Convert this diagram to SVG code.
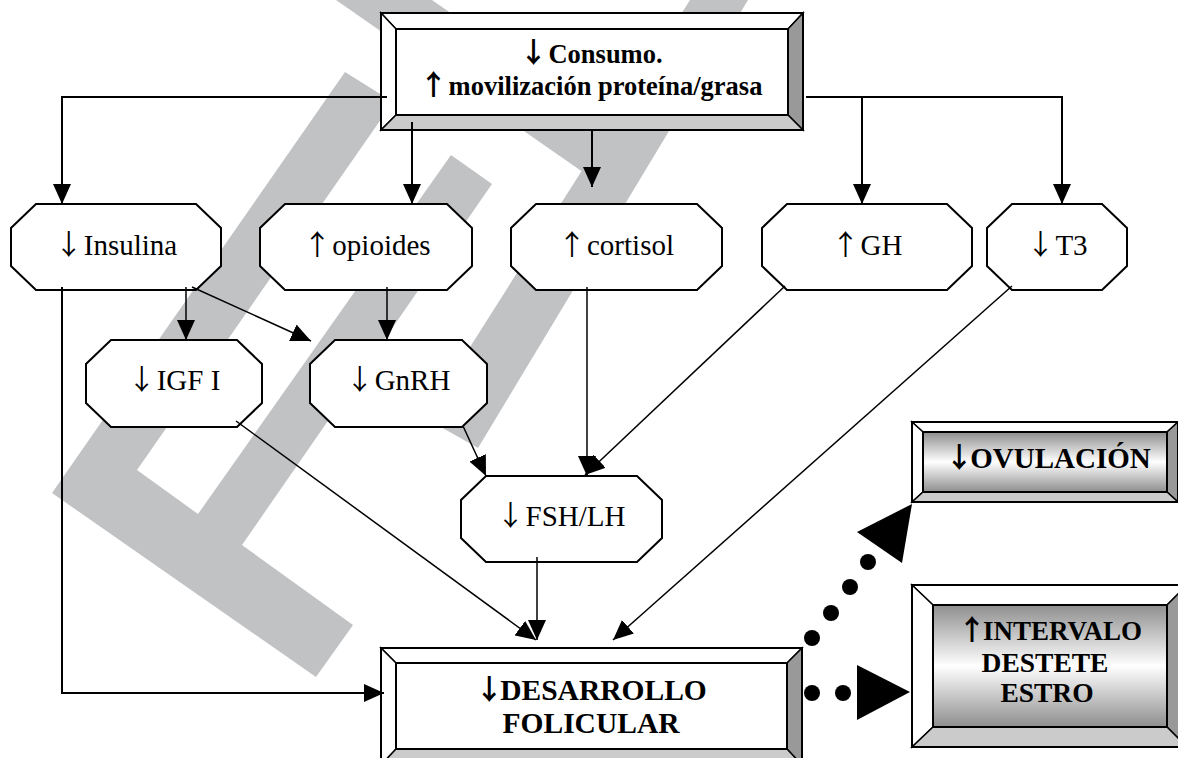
<svg xmlns="http://www.w3.org/2000/svg" width="1178" height="758" viewBox="0 0 1178 758">
<defs>
<style>
.wm{fill:#c1c2c4;stroke:none}
.oct{fill:#fff;stroke:#000;stroke-width:2}
.lbl{font-family:"Liberation Serif","Times New Roman",serif;font-size:29px;fill:#000;text-anchor:middle}
.blbl{font-family:"Liberation Serif","Times New Roman",serif;font-weight:bold;fill:#000;text-anchor:middle}
.ar{font-family:"Noto Sans CJK JP","Noto Sans CJK SC","DejaVu Sans",sans-serif;font-weight:normal;font-size:28px}
.arb{font-family:"Noto Sans CJK JP","Noto Sans CJK SC","DejaVu Sans",sans-serif;font-weight:bold;font-size:28px}
.edge{fill:none;stroke:#000;stroke-width:1.5}
.edge2{fill:none;stroke:#000;stroke-width:2}
.bv{stroke:#000;stroke-width:1.5;stroke-linejoin:miter}
.bw{fill:#fff}
.bd{fill:#999}
.bl{fill:#cbcbcb}
.dot{fill:#000}
</style>
<marker id="ah" markerUnits="userSpaceOnUse" markerWidth="20" markerHeight="18" refX="20" refY="9" orient="auto" viewBox="0 0 20 18">
<path d="M0,0 L20,9 L0,18 Z" fill="#000"/>
</marker>
<linearGradient id="gr" x1="0" y1="0" x2="0" y2="1">
<stop offset="0" stop-color="#8e8e8e"/>
<stop offset="0.5" stop-color="#ffffff"/>
<stop offset="1" stop-color="#8e8e8e"/>
</linearGradient>
</defs>
<rect width="1178" height="758" fill="#fff"/>
<g id="watermark">
<polygon class="wm" points="52,493 345,72 393,102 137,470 198,514 451,155 492,184 242,545 353,625 316,677"/>
<polygon class="wm" points="690,0 748,0 478,448 425,418"/>
<polygon class="wm" points="336,0 432,0 645,148 600,184"/>
</g>
<g id="node-top">
<polygon class="bv bw" points="381,13 803,13 788,29 396,29"/>
<polygon class="bv bw" points="381,13 396,29 396,115 381,130"/>
<polygon class="bv bd" points="803,13 803,130 788,115 788,29"/>
<polygon class="bv bl" points="381,130 803,130 788,115 396,115"/>
<rect x="381" y="13" width="422" height="117" fill="none" stroke="#000" stroke-width="2"/>
<rect x="396" y="29" width="392" height="86" fill="#fff" stroke="#000" stroke-width="2"/>
<text class="blbl" x="591" y="63" font-size="26.5"><tspan class="arb" font-size="25">↓</tspan><tspan dx="1">Consumo.</tspan></text>
<text class="blbl" x="591" y="95" font-size="26.5"><tspan class="arb" font-size="25">↑</tspan><tspan dx="1">movilización proteína/grasa</tspan></text>
</g>
<g id="node-insulina">
<polygon class="oct" points="36,204 196,204 221,228 221,266 196,290 36,290 11,266 11,228"/>
<text class="lbl" x="116" y="255"><tspan class="ar">↓</tspan><tspan dx="1">Insulina</tspan></text>
</g>
<g id="node-opioides">
<polygon class="oct" points="285,204 447,204 472,228 472,266 447,290 285,290 260,266 260,228"/>
<text class="lbl" x="367" y="255"><tspan class="ar">↑</tspan><tspan dx="1">opioides</tspan></text>
</g>
<g id="node-cortisol">
<polygon class="oct" points="536,204 697,204 722,228 722,266 697,290 536,290 511,266 511,228"/>
<text class="lbl" x="616" y="255"><tspan class="ar">↑</tspan><tspan dx="1">cortisol</tspan></text>
</g>
<g id="node-gh">
<polygon class="oct" points="787,204 947,204 972,228 972,266 947,290 787,290 762,266 762,228"/>
<text class="lbl" x="867" y="255"><tspan class="ar">↑</tspan><tspan dx="1">GH</tspan></text>
</g>
<g id="node-t3">
<polygon class="oct" points="1012,204 1102,204 1127,228 1127,266 1102,290 1012,290 987,266 987,228"/>
<text class="lbl" x="1057" y="255"><tspan class="ar">↓</tspan><tspan dx="1">T3</tspan></text>
</g>
<g id="node-igf">
<polygon class="oct" points="111,340 237,340 262,364 262,403 237,427 111,427 86,403 86,364"/>
<text class="lbl" x="174" y="390"><tspan class="ar">↓</tspan><tspan dx="1">IGF I</tspan></text>
</g>
<g id="node-gnrh">
<polygon class="oct" points="335,340 462,340 487,364 487,403 462,427 335,427 310,403 310,364"/>
<text class="lbl" x="398" y="390"><tspan class="ar">↓</tspan><tspan dx="1">GnRH</tspan></text>
</g>
<g id="node-fsh">
<polygon class="oct" points="486,476 637,476 662,500 662,538 637,562 486,562 461,538 461,500"/>
<text class="lbl" x="561" y="526"><tspan class="ar">↓</tspan><tspan dx="1">FSH/LH</tspan></text>
</g>
<g id="node-desarrollo">
<polygon class="bv bw" points="381,648 802,648 787,663 396,663"/>
<polygon class="bv bw" points="381,648 396,663 396,749 381,765"/>
<polygon class="bv bd" points="802,648 802,765 787,749 787,663"/>
<polygon class="bv bl" points="381,765 802,765 787,749 396,749"/>
<rect x="381" y="648" width="421" height="117" fill="none" stroke="#000" stroke-width="2"/>
<rect x="396" y="663" width="391" height="86" fill="#fff" stroke="#000" stroke-width="2"/>
<text class="blbl" x="591" y="700" font-size="29.5"><tspan class="arb" font-size="29">↓</tspan><tspan dx="-3">DESARROLLO</tspan></text>
<text class="blbl" x="591" y="733" font-size="29.5">FOLICULAR</text>
</g>
<g id="node-ovulacion">
<polygon class="bv bw" points="912,422 1178,422 1167,432 923,432"/>
<polygon class="bv bw" points="912,422 923,432 923,492 912,502"/>
<polygon class="bv bd" points="1178,422 1178,502 1167,492 1167,432"/>
<polygon class="bv bl" points="912,502 1178,502 1167,492 923,492"/>
<rect x="923" y="432" width="244" height="60" fill="url(#gr)" stroke="#000" stroke-width="2"/>
<rect x="912" y="422" width="266" height="80" fill="none" stroke="#000" stroke-width="2"/>
<text class="blbl" x="1048" y="468" font-size="29"><tspan class="arb" font-size="28">↓</tspan><tspan dx="-3">OVULACIÓN</tspan></text>
</g>
<g id="node-intervalo">
<polygon class="bv bw" points="912,585 1187,585 1167,605 933,605"/>
<polygon class="bv bw" points="912,585 933,605 933,727 912,747"/>
<polygon class="bv bd" points="1187,585 1187,747 1167,727 1167,605"/>
<polygon class="bv bl" points="912,747 1187,747 1167,727 933,727"/>
<rect x="933" y="605" width="234" height="122" fill="url(#gr)" stroke="#000" stroke-width="2"/>
<rect x="912" y="585" width="275" height="162" fill="none" stroke="#000" stroke-width="2"/>
<text class="blbl" x="1050" y="640" font-size="27"><tspan class="arb" font-size="26">↑</tspan><tspan dx="-3">INTERVALO</tspan></text>
<text class="blbl" x="1045" y="672" font-size="27.5">DESTETE</text>
<text class="blbl" x="1047" y="702" font-size="27.5">ESTRO</text>
</g>
<g id="connectors">
<path class="edge2" d="M387,97 H62 V204" marker-end="url(#ah)"/>
<path class="edge2" d="M412,122 V204" marker-end="url(#ah)"/>
<path class="edge2" d="M592,130 V187" marker-end="url(#ah)"/>
<path class="edge2" d="M806,97 H1062 V204" marker-end="url(#ah)"/>
<path class="edge2" d="M862,97 V204" marker-end="url(#ah)"/>
<path class="edge2" d="M62,287 V693 H384" marker-end="url(#ah)"/>
<path class="edge" d="M186,287 V340" marker-end="url(#ah)"/>
<path class="edge" d="M192,287 L311,341" marker-end="url(#ah)"/>
<path class="edge" d="M387,287 V340" marker-end="url(#ah)"/>
<path class="edge" d="M587,287 V476" marker-end="url(#ah)"/>
<path class="edge" d="M785,286 L585,475" marker-end="url(#ah)"/>
<path class="edge" d="M463,426 L486,476" marker-end="url(#ah)"/>
<path class="edge" d="M236,421 L536,640" marker-end="url(#ah)"/>
<path class="edge" d="M537,557 V640" marker-end="url(#ah)"/>
<path class="edge" d="M1012,286 L613,640" marker-end="url(#ah)"/>
<g id="dotted-ovulacion">
<circle class="dot" cx="812" cy="638" r="8"/>
<circle class="dot" cx="831" cy="613" r="8"/>
<circle class="dot" cx="850" cy="587" r="8"/>
<circle class="dot" cx="868" cy="562" r="8"/>
<polygon class="dot" points="857,532 912,504 902,563"/>
</g>
<g id="dotted-intervalo">
<circle class="dot" cx="812" cy="693" r="8"/>
<circle class="dot" cx="843" cy="693" r="8"/>
<polygon class="dot" points="857,665 857,720 910,692"/>
</g>
</g>
</svg>
